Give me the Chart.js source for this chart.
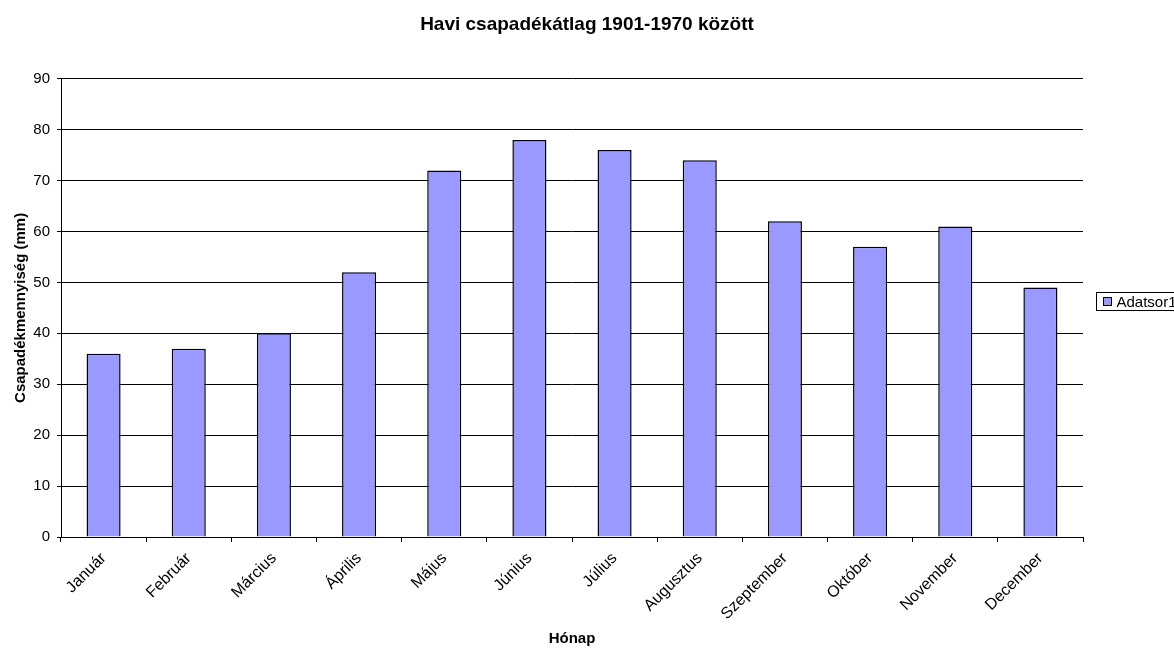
<!DOCTYPE html>
<html>
<head>
<meta charset="utf-8">
<title>Havi csapadékátlag</title>
<script src="https://cdn.jsdelivr.net/npm/chart.js@4/dist/chart.umd.min.js"></script>
<style>
  html, body { margin: 0; padding: 0; background: #fff; overflow: hidden; }
  canvas { display: block; }
</style>
</head>
<body>
<canvas id="rainChart" width="1174" height="648"></canvas>
<script>
// Monthly precipitation averages
const months = ["Január", "Február", "Március", "Április", "Május", "Június",
  "Július", "Augusztus", "Szeptember", "Október", "November", "December"];
const rainfall = [36, 37, 40, 52, 72, 78, 76, 74, 62, 57, 61, 49];
const seriesName = "Adatsor1";
const yMax = 90;
const yStep = 10;

const FONT = "'Liberation Sans', Arial, sans-serif";

// small Excel-style legend box on the right
const sideLegend = {
  id: "sideLegend",
  afterDraw(chart) {
    const ctx = chart.ctx;
    const ds = chart.data.datasets[0];
    const x = 1096.5, y = 292.5, h = 18;
    ctx.save();
    ctx.font = "15px " + FONT;
    const w = 14 + ctx.measureText(ds.label).width + 10;
    ctx.strokeStyle = "#000";
    ctx.lineWidth = 1;
    ctx.strokeRect(x, y, w, h);
    ctx.fillStyle = ds.backgroundColor;
    ctx.fillRect(x + 7, y + 5, 8, 8);
    ctx.strokeRect(x + 7, y + 5, 8, 8);
    ctx.fillStyle = "#000";
    ctx.textBaseline = "middle";
    ctx.fillText(ds.label, x + 20, y + h / 2 + 1);
    ctx.restore();
  }
};

new Chart(document.getElementById("rainChart"), {
  type: "bar",
  data: {
    labels: months,
    datasets: [{
      label: seriesName,
      data: rainfall,
      backgroundColor: "#9999FF",
      borderColor: "#000",
      borderWidth: 1.5,
      categoryPercentage: 1,
      barPercentage: 0.4,
    }],
  },
  options: {
    responsive: false,
    animation: false,
    devicePixelRatio: 1,
    layout: { padding: 0 },
    plugins: {
      legend: { display: false },
      tooltip: { enabled: false },
      title: {
        display: true,
        text: "Havi csapadékátlag 1901-1970 között",
        color: "#000",
        font: { family: FONT, size: 19, weight: "bold" },
        padding: { top: 13, bottom: 43 },
      },
    },
    scales: {
      x: {
        afterFit: (s) => { s.height = 111; },
        grid: {
          display: true,
          drawOnChartArea: false,
          offset: true,
          color: "#000",
          tickColor: "#000",
          tickLength: 5,
        },
        border: { color: "#000" },
        ticks: {
          color: "#000",
          font: { family: FONT, size: 16 },
          minRotation: 45,
          maxRotation: 45,
          padding: 7,
        },
        title: {
          display: true,
          text: "Hónap",
          color: "#000",
          font: { family: FONT, size: 15, weight: "bold" },
          padding: { top: 0, bottom: 0 },
        },
      },
      y: {
        min: 0,
        max: yMax,
        afterFit: (s) => { s.width = 61; },
        grid: {
          color: "#000",
          tickColor: "#000",
          tickLength: 4,
        },
        border: { color: "#000" },
        ticks: {
          stepSize: yStep,
          color: "#000",
          font: { family: FONT, size: 15 },
          padding: 7,
        },
        title: {
          display: true,
          text: "Csapadékmennyiség (mm)",
          color: "#000",
          font: { family: FONT, size: 15, weight: "bold" },
          padding: { top: 12, bottom: 0 },
        },
      },
      // empty right-hand strip that holds the legend
      side: {
        position: "right",
        display: true,
        afterFit: (s) => { s.width = 91; },
        grid: { display: false },
        border: { display: false },
        ticks: { display: false },
      },
    },
  },
  plugins: [sideLegend],
});
</script>
</body>
</html>
